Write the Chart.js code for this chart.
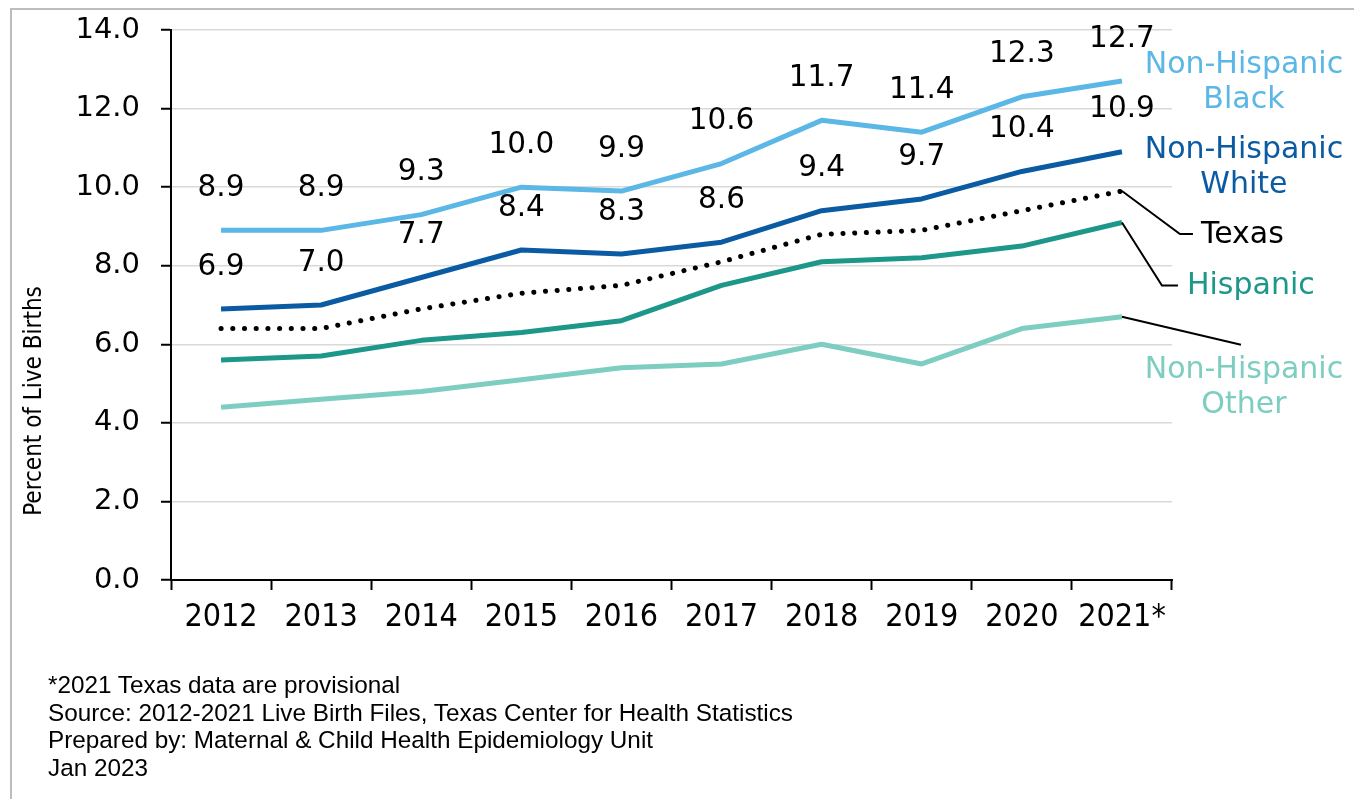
<!DOCTYPE html>
<html>
<head>
<meta charset="utf-8">
<script src="https://cdn.jsdelivr.net/npm/chart.js@4"></script>
<style>
  body { margin: 0; background: #fff; }
  #wrap { position: relative; width: 1359px; height: 799px; }
  #frame { position: absolute; left: 10px; top: 8px; width: 1342px; height: 791px;
           border-top: 2px solid #bdbdbd; border-left: 2px solid #bdbdbd; }
  #notes { position: absolute; left: 48px; top: 671px; font-family: "Liberation Sans Narrow", "Liberation Sans", sans-serif;
           font-size: 24.3px; line-height: 27.5px; color: #000; }
</style>
</head>
<body>
<div id="wrap">
  <div id="frame"></div>
  <canvas id="chart" width="1359" height="799"></canvas>
  <div id="notes">
    *2021 Texas data are provisional<br>
    Source: 2012-2021 Live Birth Files, Texas Center for Health Statistics<br>
    Prepared by: Maternal &amp; Child Health Epidemiology Unit<br>
    Jan 2023
  </div>
</div>
<script>
// percent of live births by race/ethnicity, Texas 2012-2021
var years = ["2012", "2013", "2014", "2015", "2016", "2017", "2018", "2019", "2020", "2021*"];
var yTicks = [0, 2, 4, 6, 8, 10, 12, 14];

var nhBlack = [8.9, 8.9, 9.3, 10.0, 9.9, 10.6, 11.7, 11.4, 12.3, 12.7];
var nhWhite = [6.9, 7.0, 7.7, 8.4, 8.3, 8.6, 9.4, 9.7, 10.4, 10.9];
var texas = [6.4, 6.4, 6.9, 7.3, 7.5, 8.1, 8.8, 8.9, 9.4, 9.9];
var hispanic = [5.6, 5.7, 6.1, 6.3, 6.6, 7.5, 8.1, 8.2, 8.5, 9.1];
var nhOther = [4.4, 4.6, 4.8, 5.1, 5.4, 5.5, 6.0, 5.5, 6.4, 6.7];

var seriesNames = [["Non-Hispanic", "Black"], ["Non-Hispanic", "White"], ["Texas"], ["Hispanic"], ["Non-Hispanic", "Other"]];

var colors = {
  black: "#5bb7e5",
  white: "#0b5ba3",
  texas: "#000000",
  hispanic: "#1c978a",
  other: "#7dcec1"
};

var FONT = "'DejaVu Sans', Verdana, sans-serif";

// value labels, series names on the right and the leader lines to them
var labelPlugin = {
  id: "labels",
  afterDatasetsDraw: function (chart) {
    var ctx = chart.ctx;
    var x = chart.scales.x, y = chart.scales.y;
    ctx.save();

    // numbers above the two upper lines
    ctx.font = "29.5px " + FONT;
    ctx.fillStyle = "#000";
    ctx.textAlign = "center";
    ctx.textBaseline = "middle";
    [0, 1].forEach(function (di) {
      var meta = chart.getDatasetMeta(di);
      meta.data.forEach(function (pt, i) {
        ctx.fillText(chart.data.datasets[di].data[i].toFixed(1), pt.x, pt.y - 42);
      });
    });

    var last = years.length - 1;
    var ex = x.getPixelForValue(last);

    // leader lines
    ctx.strokeStyle = "#000";
    ctx.lineWidth = 2;
    var ty = y.getPixelForValue(texas[last]);
    ctx.beginPath();
    ctx.moveTo(ex, ty);
    ctx.lineTo(ex + 58, ty + 43);
    ctx.lineTo(ex + 71, ty + 43);
    ctx.stroke();
    var hy = y.getPixelForValue(hispanic[last]);
    ctx.beginPath();
    ctx.moveTo(ex, hy);
    ctx.lineTo(ex + 40, hy + 63);
    ctx.lineTo(ex + 56, hy + 63);
    ctx.stroke();
    var oy = y.getPixelForValue(nhOther[last]);
    ctx.beginPath();
    ctx.moveTo(ex, oy);
    ctx.lineTo(ex + 119, oy + 28);
    ctx.stroke();

    // series names
    ctx.font = "30px " + FONT;
    ctx.textAlign = "center";
    var tx = ex + 122;
    ctx.fillStyle = colors.black;
    ctx.fillText(seriesNames[0][0], tx, 65);
    ctx.fillText(seriesNames[0][1], tx, 100);
    ctx.fillStyle = colors.white;
    ctx.fillText(seriesNames[1][0], tx, 150);
    ctx.fillText(seriesNames[1][1], tx, 185);
    ctx.fillStyle = colors.texas;
    ctx.textAlign = "left";
    ctx.fillText(seriesNames[2][0], ex + 79, ty + 44);
    ctx.fillStyle = colors.hispanic;
    ctx.fillText(seriesNames[3][0], ex + 65, hy + 64);
    ctx.textAlign = "center";
    ctx.fillStyle = colors.other;
    ctx.fillText(seriesNames[4][0], tx, 370);
    ctx.fillText(seriesNames[4][1], tx, 405);

    // y axis title
    ctx.translate(35, 401);
    ctx.rotate(-Math.PI / 2);
    ctx.font = "24px 'DejaVu Sans Condensed', 'DejaVu Sans', sans-serif";
    ctx.fillStyle = "#000";
    ctx.fillText("Percent of Live Births", 0, 0);
    ctx.restore();
  }
};

function line(label, data, color, dotted) {
  return {
    label: label,
    data: data,
    borderColor: color,
    backgroundColor: color,
    borderWidth: 5,
    borderDash: dotted ? [0.1, 11.6] : [],
    borderCapStyle: dotted ? "round" : "butt",
    borderJoinStyle: "round",
    pointRadius: 0,
    tension: 0,
    fill: false
  };
}

new Chart(document.getElementById("chart"), {
  type: "line",
  data: {
    labels: years,
    datasets: [
      line("Non-Hispanic Black", nhBlack, colors.black),
      line("Non-Hispanic White", nhWhite, colors.white),
      line("Texas", texas, colors.texas, true),
      line("Hispanic", hispanic, colors.hispanic),
      line("Non-Hispanic Other", nhOther, colors.other)
    ]
  },
  options: {
    responsive: false,
    animation: false,
    layout: { padding: { left: 0, right: 187, top: 30, bottom: 159 } },
    plugins: {
      legend: { display: false },
      tooltip: { enabled: false }
    },
    scales: {
      x: {
        offset: true,
        grid: { offset: true, drawOnChartArea: false, tickColor: "#000", tickLength: 10, tickWidth: 2 },
        border: { color: "#000", width: 2 },
        ticks: { color: "#000", font: { family: "'DejaVu Sans Condensed', 'DejaVu Sans', sans-serif", size: 32 }, padding: 8, maxRotation: 0, autoSkip: false },
        afterFit: function (s) { s.height = 60; }
      },
      y: {
        min: 0,
        max: 14,
        afterBuildTicks: function (s) { s.ticks = yTicks.map(function (v) { return { value: v }; }); },
        grid: { color: "#d9d9d9", lineWidth: 1.5, tickColor: "#000", tickLength: 10, tickWidth: 2 },
        border: { color: "#000", width: 2 },
        ticks: {
          color: "#000",
          font: { family: FONT, size: 29 },
          padding: 21,
          callback: function (v) { return Number(v).toFixed(1); }
        },
        afterFit: function (s) {
          s.width = 171;
          s.paddingTop = 0;
          s.paddingBottom = 0;
        }
      }
    }
  },
  plugins: [labelPlugin]
});
</script>
</body>
</html>
